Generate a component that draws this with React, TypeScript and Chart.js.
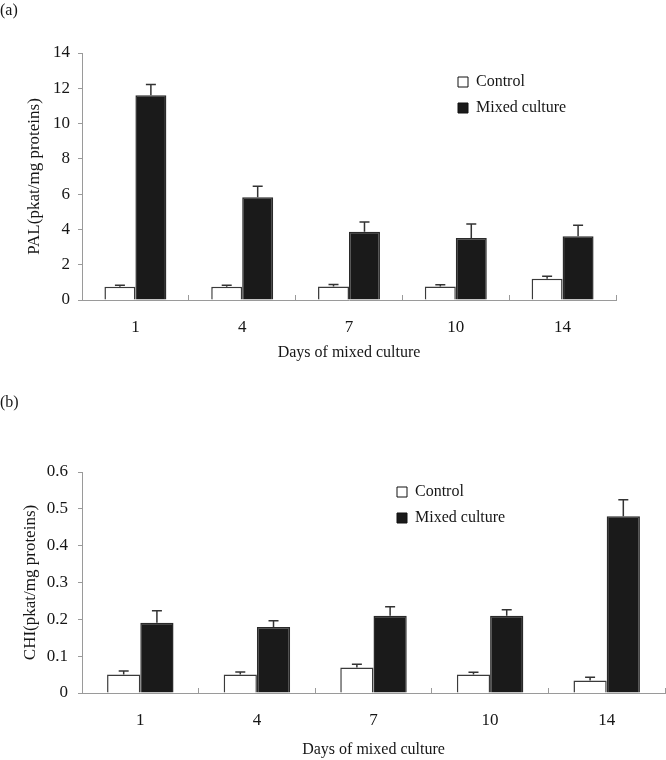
import React, { useEffect, useRef } from "react";
import { Chart, registerables } from "chart.js";

Chart.register(...registerables);

// ---------- data ----------
const days = ["1", "4", "7", "10", "14"];

const palControl = [0.75, 0.75, 0.76, 0.76, 1.21];
const palControlErr = [0.08, 0.08, 0.12, 0.1, 0.13];
const palMixed = [11.6, 5.82, 3.87, 3.51, 3.61];
const palMixedErr = [0.62, 0.63, 0.55, 0.8, 0.62];
const palTicks = [0, 2, 4, 6, 8, 10, 12, 14];

const chiControl = [0.05, 0.05, 0.069, 0.05, 0.034];
const chiControlErr = [0.01, 0.007, 0.009, 0.006, 0.009];
const chiMixed = [0.191, 0.179, 0.21, 0.21, 0.48];
const chiMixedErr = [0.032, 0.017, 0.024, 0.016, 0.045];
const chiTicks = [0, 0.1, 0.2, 0.3, 0.4, 0.5, 0.6];

const seriesNames = ["Control", "Mixed culture"];
const xTitle = "Days of mixed culture";

// ---------- styling ----------
const FONT = "'Liberation Serif', 'Times New Roman', serif";
const TEXT = "#161616";
const AXIS = "#9a9a9a";
const W = 666;
const H = 380;

type PanelProps = {
  top: number;
  tag: string;
  control: number[];
  controlErr: number[];
  mixed: number[];
  mixedErr: number[];
  ticks: number[];
  yTitle: string;
  plotTop: number;
  plotBottom: number;
  plotRight: number;
  yTitlePad: number;
  yTickPad: number;
  xTitlePad: number;
  legendLeft: number;
  legendTop: number;
  catPct: number;
};

const errorBarPlugin = {
  id: "errorBars",
  afterDatasetsDraw(chart: any) {
    const ctx = chart.ctx;
    const yScale = chart.scales.y;
    chart.data.datasets.forEach((ds: any, i: number) => {
      const meta = chart.getDatasetMeta(i);
      const errs: number[] = ds.errors || [];
      meta.data.forEach((el: any, j: number) => {
        const v = ds.data[j];
        const e = errs[j] || 0;
        const yTop = yScale.getPixelForValue(v + e);
        const x = el.x;
        ctx.save();
        ctx.strokeStyle = "#333";
        ctx.lineWidth = 1.5;
        ctx.beginPath();
        ctx.moveTo(x, el.y);
        ctx.lineTo(x, yTop);
        ctx.moveTo(x - 5, yTop);
        ctx.lineTo(x + 5, yTop);
        ctx.stroke();
        ctx.restore();
      });
    });
  },
};

function Panel(p: PanelProps) {
  const ref = useRef<HTMLCanvasElement | null>(null);
  useEffect(() => {
    if (!ref.current) return;
    const legendPlacer = {
      id: "legendPlacer",
      afterLayout(chart: any) {
        const lg = chart.legend;
        if (!lg) return;
        const w = lg.width;
        const h = lg.height;
        lg.left = p.legendLeft;
        lg.top = p.legendTop;
        lg.right = p.legendLeft + w;
        lg.bottom = p.legendTop + h;
      },
    };
    const chart = new Chart(ref.current, {
      type: "bar",
      data: {
        labels: days,
        datasets: [
          {
            label: seriesNames[0],
            data: p.control,
            errors: p.controlErr,
            backgroundColor: "#ffffff",
            borderColor: "#3a3a3a",
            borderWidth: 1.5,
            barPercentage: 1,
            categoryPercentage: p.catPct,
          } as any,
          {
            label: seriesNames[1],
            data: p.mixed,
            errors: p.mixedErr,
            backgroundColor: "#1a1a1a",
            borderColor: "#2a2a2a",
            borderWidth: 1.5,
            barPercentage: 1,
            categoryPercentage: p.catPct,
          } as any,
        ],
      },
      options: {
        animation: false,
        responsive: false,
        devicePixelRatio: 1,
        events: [],
        layout: {
          padding: { top: p.plotTop, right: W - p.plotRight, bottom: 0, left: 0 },
        },
        plugins: {
          tooltip: { enabled: false },
          title: { display: false },
          legend: {
            display: true,
            position: "chartArea" as any,
            align: "start",
            labels: {
              boxWidth: 10,
              boxHeight: 10,
              padding: 10,
              color: TEXT,
              font: { family: FONT, size: 16 },
              generateLabels: (chart: any) =>
                chart.data.datasets.map((ds: any, i: number) => ({
                  text: ds.label,
                  fillStyle: ds.backgroundColor,
                  strokeStyle: "#111",
                  lineWidth: 1,
                  hidden: false,
                  datasetIndex: i,
                  fontColor: TEXT,
                })),
            },
          },
        },
        scales: {
          x: {
            offset: true,
            grid: {
              display: true,
              offset: true,
              drawOnChartArea: false,
              drawTicks: true,
              tickLength: -5,
              color: AXIS,
              lineWidth: 1,
            },
            border: { display: true, color: AXIS, width: 1 },
            ticks: {
              color: TEXT,
              font: { family: FONT, size: 17 },
              padding: 22,
              maxRotation: 0,
            },
            title: {
              display: true,
              text: xTitle,
              color: TEXT,
              font: { family: FONT, size: 16 },
              padding: { top: 0, bottom: p.xTitlePad },
            },
            afterFit: (s: any) => {
              s.height = H - p.plotBottom;
            },
          },
          y: {
            min: p.ticks[0],
            max: p.ticks[p.ticks.length - 1],
            grid: {
              display: true,
              drawOnChartArea: false,
              drawTicks: true,
              tickLength: 4,
              color: AXIS,
              lineWidth: 1,
            },
            border: { display: true, color: AXIS, width: 1 },
            ticks: {
              color: TEXT,
              font: { family: FONT, size: 17 },
              padding: p.yTickPad,
            },
            title: {
              display: true,
              text: p.yTitle,
              color: TEXT,
              font: { family: FONT, size: 17 },
              padding: { top: p.yTitlePad, bottom: 0 },
            },
            afterBuildTicks: (s: any) => {
              s.ticks = p.ticks.map((v) => ({ value: v }));
            },
            afterFit: (s: any) => {
              s.width = 82;
            },
          },
        },
      } as any,
      plugins: [errorBarPlugin, legendPlacer],
    });
    return () => chart.destroy();
  }, []);

  return (
    <div style={{ position: "absolute", left: 0, top: p.top, width: W, height: H }}>
      <canvas ref={ref} width={W} height={H} style={{ width: W, height: H, display: "block" }} />
      <div
        style={{
          position: "absolute",
          left: 0,
          top: p.tag === "(a)" ? 1 : 13,
          fontFamily: FONT,
          fontSize: 16,
          lineHeight: "18px",
          color: TEXT,
        }}
      >
        {p.tag}
      </div>
    </div>
  );
}

export default function App() {
  return (
    <div style={{ position: "absolute", left: 0, top: 0, width: W, height: 760, background: "#fff" }}>
      <Panel
        top={0}
        tag="(a)"
        control={palControl}
        controlErr={palControlErr}
        mixed={palMixed}
        mixedErr={palMixedErr}
        ticks={palTicks}
        yTitle="PAL(pkat/mg proteins)"
        plotTop={53}
        plotBottom={300}
        plotRight={616}
        yTitlePad={24}
        yTickPad={8}
        xTitlePad={18}
        legendLeft={448}
        legendTop={64}
        catPct={0.58}
      />
      <Panel
        top={380}
        tag="(b)"
        control={chiControl}
        controlErr={chiControlErr}
        mixed={chiMixed}
        mixedErr={chiMixedErr}
        ticks={chiTicks}
        yTitle="CHI(pkat/mg proteins)"
        plotTop={92}
        plotBottom={313}
        plotRight={665}
        yTitlePad={20}
        yTickPad={10}
        xTitlePad={1}
        legendLeft={387}
        legendTop={94}
        catPct={0.57}
      />
    </div>
  );
}
